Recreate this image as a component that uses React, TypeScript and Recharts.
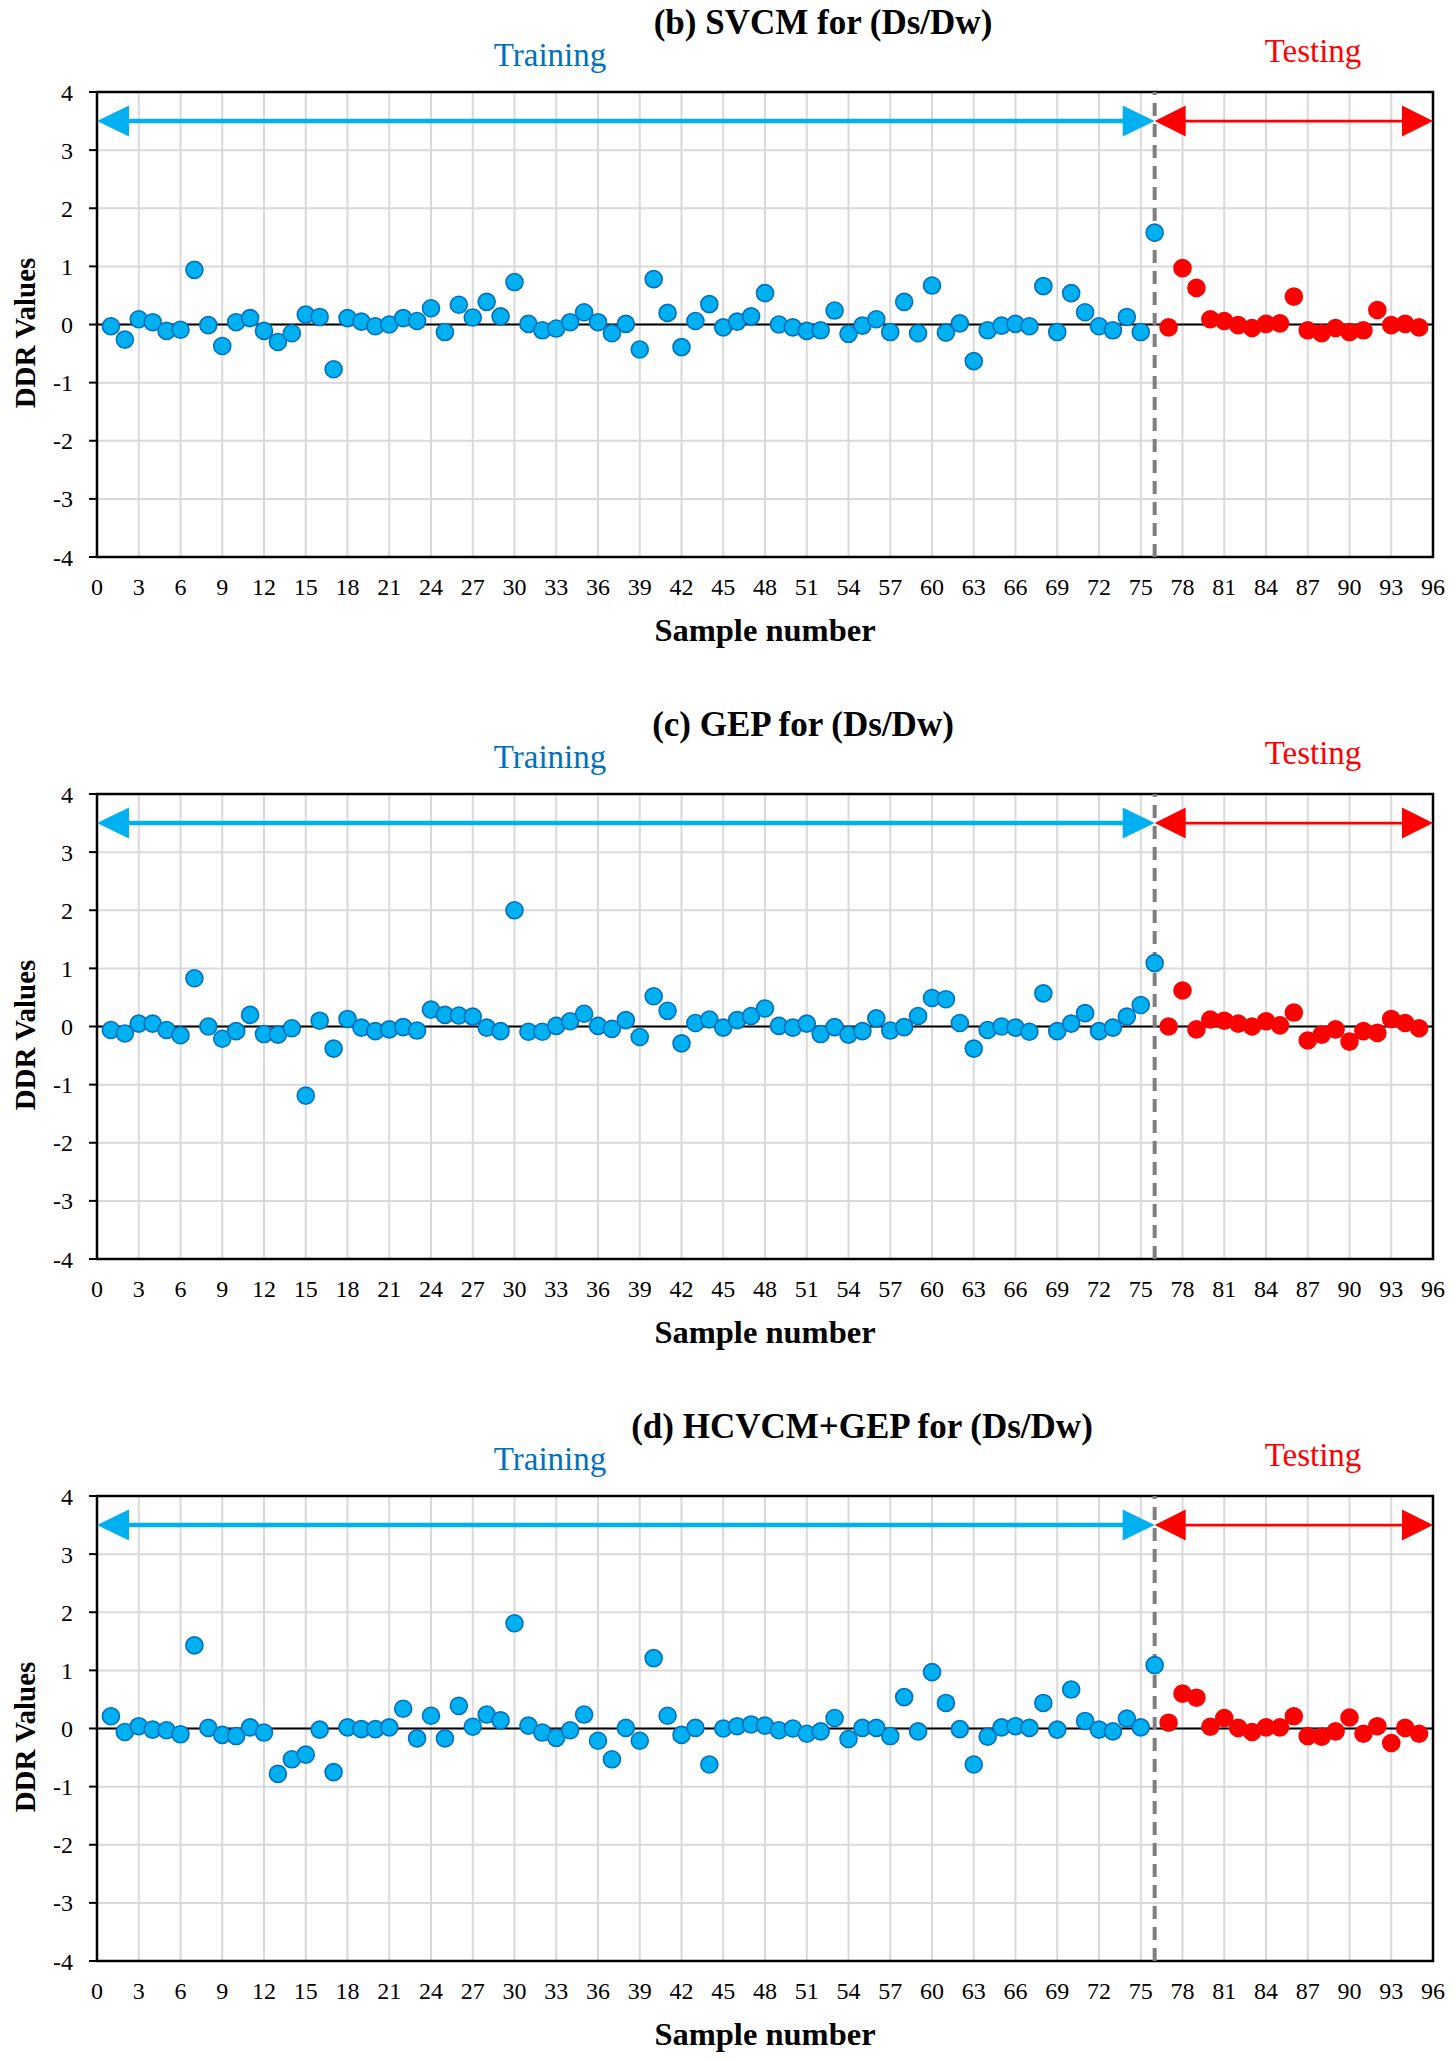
import {
  CartesianGrid,
  ReferenceArea,
  ReferenceLine,
  Scatter,
  ScatterChart,
  XAxis,
  YAxis,
} from "recharts";

const FONT = "Liberation Serif, Times New Roman, serif";
const TRAIN_FILL = "#00B0F0";
const TRAIN_EDGE = "#0070C0";
const TEST_FILL = "#FF0000";
const GRID = "#D9D9D9";

const W = 1455;
const PANEL_H = 702;

// sample numbers (categories)
const trainSamples = Array.from({ length: 76 }, (_, i) => i + 1);
const testSamples = Array.from({ length: 19 }, (_, i) => i + 77);
const xTicks = Array.from({ length: 33 }, (_, i) => i * 3);
const yTicks = [-4, -3, -2, -1, 0, 1, 2, 3, 4];
const SPLIT = 76;
const X_MAX = 96;
const ARROW_Y = 3.5;

// (b) SVCM
const svcmTrain = [
  -0.03, -0.26, 0.09, 0.04, -0.11, -0.09, 0.94, -0.01, -0.37, 0.04,
  0.11, -0.11, -0.3, -0.15, 0.17, 0.13, -0.77, 0.11, 0.05, -0.03,
  0.0, 0.11, 0.06, 0.28, -0.13, 0.34, 0.12, 0.39, 0.14, 0.73,
  0.01, -0.1, -0.07, 0.04, 0.21, 0.04, -0.15, 0.01, -0.43, 0.78,
  0.2, -0.39, 0.06, 0.35, -0.05, 0.05, 0.14, 0.54, 0.0, -0.05,
  -0.11, -0.1, 0.24, -0.16, -0.02, 0.09, -0.13, 0.39, -0.15, 0.67,
  -0.14, 0.02, -0.63, -0.1, -0.02, 0.01, -0.03, 0.66, -0.13, 0.54,
  0.21, -0.03, -0.1, 0.13, -0.13, 1.58,
];
const svcmTest = [
  -0.05, 0.97, 0.63, 0.09, 0.06, -0.01, -0.06, 0.01, 0.02, 0.48,
  -0.1, -0.15, -0.06, -0.13, -0.1, 0.25, -0.01, 0.01, -0.05,
];

// (c) GEP
const gepTrain = [
  -0.06, -0.12, 0.05, 0.05, -0.06, -0.15, 0.83, 0.0, -0.21, -0.08,
  0.2, -0.13, -0.14, -0.03, -1.19, 0.1, -0.38, 0.13, -0.02, -0.08,
  -0.05, -0.01, -0.07, 0.29, 0.2, 0.19, 0.17, -0.02, -0.08, 2.0,
  -0.09, -0.09, 0.01, 0.09, 0.22, 0.01, -0.04, 0.11, -0.18, 0.52,
  0.27, -0.29, 0.06, 0.12, -0.02, 0.11, 0.18, 0.31, 0.01, -0.02,
  0.05, -0.13, -0.01, -0.14, -0.08, 0.14, -0.07, -0.01, 0.18, 0.49,
  0.47, 0.06, -0.38, -0.06, 0.0, -0.02, -0.09, 0.57, -0.08, 0.05,
  0.23, -0.08, -0.02, 0.17, 0.37, 1.09,
];
const gepTest = [
  0.0, 0.62, -0.05, 0.12, 0.1, 0.05, 0.0, 0.09, 0.02, 0.24,
  -0.24, -0.14, -0.05, -0.26, -0.08, -0.11, 0.13, 0.06, -0.03,
];

// (d) HCVCM+GEP
const hybTrain = [
  0.21, -0.06, 0.04, -0.02, -0.03, -0.1, 1.43, 0.01, -0.11, -0.13,
  0.02, -0.07, -0.78, -0.53, -0.45, -0.02, -0.75, 0.02, -0.01, -0.01,
  0.02, 0.34, -0.17, 0.22, -0.17, 0.39, 0.03, 0.24, 0.14, 1.81,
  0.05, -0.07, -0.16, -0.03, 0.24, -0.21, -0.53, 0.01, -0.21, 1.21,
  0.22, -0.11, 0.01, -0.62, 0.0, 0.04, 0.07, 0.05, -0.03, 0.0,
  -0.09, -0.05, 0.18, -0.18, 0.01, 0.01, -0.13, 0.54, -0.05, 0.97,
  0.44, -0.01, -0.62, -0.14, 0.02, 0.04, 0.01, 0.44, -0.02, 0.67,
  0.13, -0.02, -0.05, 0.17, 0.02, 1.09,
];
const hybTest = [
  0.1, 0.6, 0.53, 0.03, 0.18, 0.01, -0.06, 0.02, 0.02, 0.21,
  -0.13, -0.14, -0.05, 0.19, -0.09, 0.04, -0.25, 0.01, -0.09,
];

const panels = [
  { title: "(b) SVCM for (Ds/Dw)", titleX: 823, train: svcmTrain, test: svcmTest },
  { title: "(c) GEP for (Ds/Dw)", titleX: 803, train: gepTrain, test: gepTest },
  { title: "(d) HCVCM+GEP for (Ds/Dw)", titleX: 862, train: hybTrain, test: hybTest },
];

const toPoints = (xs: number[], ys: number[]) => xs.map((x, i) => ({ x, y: ys[i] }));

// double-headed arrow drawn between the segment end points
function doubleArrow(color: string, width: number, headLen: number, headHalf: number) {
  return (p: any) => {
    const left = Math.min(p.x1, p.x2);
    const right = Math.max(p.x1, p.x2);
    const y = p.y1;
    return (
      <g>
        <line x1={left + headLen - 1} y1={y} x2={right - headLen + 1} y2={y} stroke={color} strokeWidth={width} />
        <polygon points={`${left},${y} ${left + headLen},${y - headHalf} ${left + headLen},${y + headHalf}`} fill={color} />
        <polygon points={`${right},${y} ${right - headLen},${y - headHalf} ${right - headLen},${y + headHalf}`} fill={color} />
      </g>
    );
  };
}

const dot = (fill: string, edge: string) => (p: any) => (
  <circle cx={p.cx} cy={p.cy} r={8.5} fill={fill} stroke={edge} strokeWidth={1.6} />
);

const tickStyle = { fontSize: 24, fill: "#000", fontFamily: FONT };

function Panel({ title, titleX, train, test }: { title: string; titleX: number; train: number[]; test: number[] }) {
  return (
    <div style={{ position: "relative", width: W, height: PANEL_H }}>
      <ScatterChart width={W} height={PANEL_H} margin={{ top: 92, right: 22, bottom: 105, left: 0 }}>
        <CartesianGrid stroke={GRID} strokeWidth={2} />
        <XAxis
          type="number"
          dataKey="x"
          domain={[0, X_MAX]}
          ticks={xTicks}
          interval={0}
          height={40}
          axisLine={false}
          tickLine={false}
          tickSize={8}
          tickMargin={13}
          tick={tickStyle}
        />
        <YAxis
          type="number"
          dataKey="y"
          domain={[-4, 4]}
          ticks={yTicks}
          interval={0}
          width={97}
          axisLine={false}
          tickLine={{ stroke: "#000", strokeWidth: 2 }}
          tickSize={8}
          tickMargin={16}
          tick={tickStyle}
        />
        <ReferenceArea x1={0} x2={X_MAX} y1={-4} y2={4} fill="none" stroke="#000" strokeWidth={2.5} fillOpacity={0} />
        <ReferenceLine y={0} stroke="#000" strokeWidth={2} />
        <ReferenceLine x={SPLIT} stroke="#7F7F7F" strokeWidth={4} strokeDasharray="13 8" />
        <ReferenceLine
          segment={[{ x: 0, y: ARROW_Y }, { x: SPLIT, y: ARROW_Y }]}
          shape={doubleArrow(TRAIN_FILL, 4.5, 32, 15.5)}
        />
        <ReferenceLine
          segment={[{ x: SPLIT, y: ARROW_Y }, { x: X_MAX, y: ARROW_Y }]}
          shape={doubleArrow(TEST_FILL, 2.7, 31, 15.5)}
        />
        <Scatter
          name="Training"
          data={toPoints(trainSamples, train)}
          shape={dot(TRAIN_FILL, TRAIN_EDGE)}
          isAnimationActive={false}
        />
        <Scatter
          name="Testing"
          data={toPoints(testSamples, test)}
          shape={dot(TEST_FILL, TEST_FILL)}
          isAnimationActive={false}
        />
      </ScatterChart>
      <svg
        width={W}
        height={PANEL_H}
        style={{ position: "absolute", left: 0, top: 0, pointerEvents: "none" }}
        fontFamily={FONT}
      >
        <text x={titleX} y={34} textAnchor="middle" fontSize={35} fontWeight="bold" fill="#000">
          {title}
        </text>
        <text x={550} y={66} textAnchor="middle" fontSize={33} fill={TRAIN_EDGE}>
          Training
        </text>
        <text x={1313} y={62} textAnchor="middle" fontSize={33} fill={TEST_FILL}>
          Testing
        </text>
        <text x={765} y={641} textAnchor="middle" fontSize={32.5} fontWeight="bold" fill="#000">
          Sample number
        </text>
        <text
          x={35}
          y={333}
          textAnchor="middle"
          fontSize={29}
          fontWeight="bold"
          fill="#000"
          transform="rotate(-90 35 333)"
        >
          DDR Values
        </text>
      </svg>
    </div>
  );
}

export default function App() {
  return (
    <div
      style={{
        position: "absolute",
        left: 0,
        top: 0,
        width: W,
        height: 2061,
        overflow: "hidden",
        background: "#fff",
      }}
    >
      {panels.map((p) => (
        <Panel key={p.title} {...p} />
      ))}
    </div>
  );
}
